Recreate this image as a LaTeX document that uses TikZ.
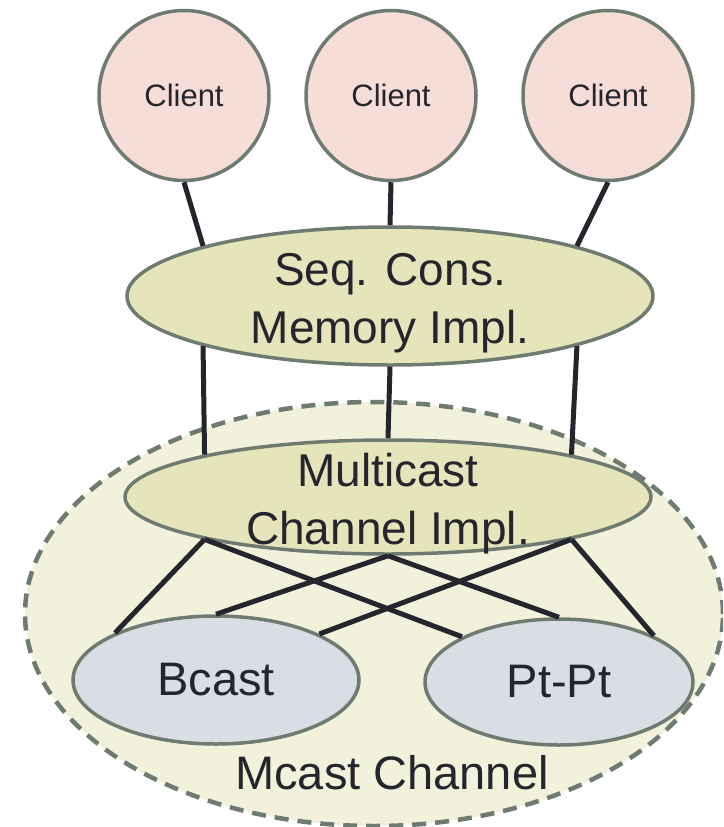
\documentclass[tikz,border=0pt]{standalone}
\usepackage{fontspec}
\setmainfont{Liberation Sans}
\usepackage{xcolor}
\usepackage{tikz}
\usetikzlibrary{positioning,shapes.geometric}
\definecolor{edgegray}{HTML}{6E7B70}
\definecolor{ink}{HTML}{25252D}
\definecolor{clientpink}{HTML}{F6DDD8}
\definecolor{implgreen}{HTML}{E5E4BA}
\definecolor{groupgreen}{HTML}{F2F2DC}
\definecolor{chanblue}{HTML}{D9DDE4}
\begin{document}
\begin{tikzpicture}[x=1pt, y=-1pt,
				client/.style={
					circle, draw=edgegray, line width=3.5pt, fill=clientpink,
					minimum size=170pt, inner sep=0pt, text=ink,
					font=\fontsize{31}{37}\selectfont,
				},
				impl/.style={
					ellipse, draw=edgegray, line width=3.5pt, fill=implgreen,
					minimum width=526pt, inner sep=0pt,
				},
				chan/.style={
					ellipse, draw=edgegray, line width=3.5pt, fill=chanblue,
					minimum height=128pt, inner sep=0pt, text=ink,
					font=\fontsize{47}{56}\selectfont,
				},
				group/.style={
					ellipse, draw=edgegray, line width=4.5pt, fill=groupgreen,
					dash pattern=on 14pt off 9pt,
					minimum width=698pt, minimum height=424pt, inner sep=0pt,
				},
				bigtext/.style={
					text=ink, align=center, inner sep=0pt,
					font=\fontsize{46}{58}\selectfont,
				},
				link/.style={draw=ink, line width=5pt},
				]
				\useasboundingbox (0,0) rectangle (723,827);
				\clip (0,0) rectangle (723,827);
				
				\node[group] (mcast) at (374,614) {};
				\node[bigtext, font=\fontsize{47}{56}\selectfont] (mcastlabel) at (392,773) {Mcast Channel};
				
				\node[impl, minimum height=138pt] (seq) at (390,296) {};
				\node[bigtext] (seqtext) at ([yshift=-7pt]seq.center) {Seq. Cons.\\Memory Impl.};
				
				\node[impl, minimum height=114pt] (multi) at (388,497) {};
				\node[bigtext] (multitext) at ([yshift=-7pt]multi.center) {Multicast\\Channel Impl.};
				
				\node[chan, minimum width=286pt] (bcast) at (216,680) {Bcast};
				\node[chan, minimum width=268pt, minimum height=126pt] (ptpt) at (559,682) {Pt-Pt};
				
				\node[client] (c1) at (184,95.5) {Client};
				\node[client] (c2) at (391,95.5) {Client};
				\node[client] (c3) at (608,95.5) {Client};
				
				\foreach \c/\a in {c1/165, c2/90, c3/15}
				\draw[link] (\c.south) -- (seq.\a);
				
				\foreach \a/\b in {-165/167, -90/90, -15/13}
				\draw[link] (seq.\a) -- (multi.\b);
				
				\foreach \a/\b/\p in {-167/155/155, -90/90/90, -13/24/26} {
					\draw[link] (multi.\a) -- (bcast.\b);
					\draw[link] (multi.\a) -- (ptpt.\p);
				}
			\end{tikzpicture}
\end{document}
